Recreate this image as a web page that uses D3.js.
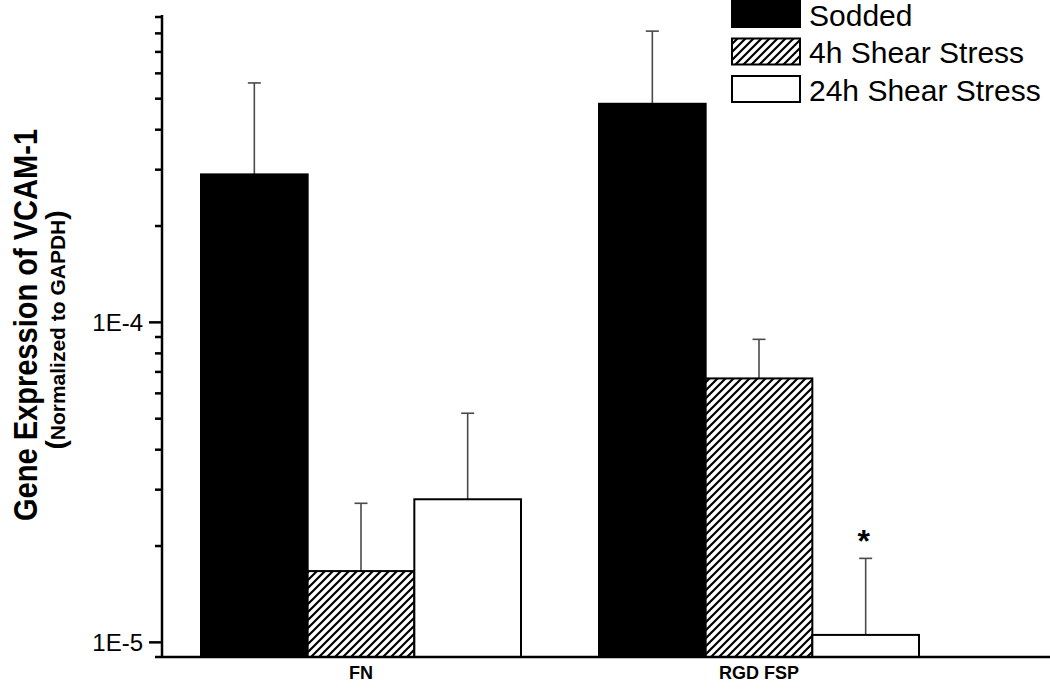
<!DOCTYPE html>
<html>
<head>
<meta charset="utf-8">
<script src="https://cdn.jsdelivr.net/npm/d3@7"></script>
<style>
  html, body { margin: 0; padding: 0; background: #fff; }
  svg { display: block; font-family: "Liberation Sans", Arial, sans-serif; }
</style>
</head>
<body>
<svg id="chart" width="1050" height="690"></svg>
<script>
// ---- data ----
const categories = ["FN", "RGD FSP"];
const seriesNames = ["Sodded", "4h Shear Stress", "24h Shear Stress"];
const soddedValues = [2.90e-4, 4.82e-4];
const shear4hValues = [1.67e-5, 6.68e-5];
const shear24hValues = [2.80e-5, 1.055e-5];
const soddedErr = [2.70e-4, 3.31e-4];
const shear4hErr = [1.05e-5, 2.17e-5];
const shear24hErr = [2.40e-5, 7.75e-6];
const majorTicks = [1e-5, 1e-4];
const majorTickLabels = ["1E-5", "1E-4"];
const minorTicks = [2e-5, 3e-5, 4e-5, 5e-5, 6e-5, 7e-5, 8e-5, 9e-5,
                    2e-4, 3e-4, 4e-4, 5e-4, 6e-4, 7e-4, 8e-4, 9e-4];
const significance = [null, null, null, null, null, "*"]; // per bar (cat-major order)

const seriesValues = [soddedValues, shear4hValues, shear24hValues];
const seriesErr = [soddedErr, shear4hErr, shear24hErr];

const svg = d3.select("#chart");

// pattern for hatched bars
const defs = svg.append("defs");
const pat = defs.append("pattern")
  .attr("id", "hatch").attr("patternUnits", "userSpaceOnUse")
  .attr("width", 8).attr("height", 8);
pat.append("rect").attr("width", 8).attr("height", 8).attr("fill", "#fff");
pat.append("path")
  .attr("d", "M-2,2 L2,-2 M0,8 L8,0 M6,10 L10,6")
  .attr("stroke", "#000").attr("stroke-width", 2.2);

const fills = ["#000", "url(#hatch)", "#fff"];

// scales
const y = d3.scaleLog().domain([9e-6, 9e-4]).range([657, 17]);
const x0 = d3.scaleBand().domain(categories).range([162, 958]);
const groupW = 320;
const x1 = d3.scaleBand().domain(seriesNames)
  .range([(x0.bandwidth() - groupW) / 2, (x0.bandwidth() + groupW) / 2]);

// bars data
const bars = [];
categories.forEach((c, ci) => {
  seriesNames.forEach((s, si) => {
    bars.push({cat: c, ser: s, si, v: seriesValues[si][ci], e: seriesErr[si][ci],
               sig: significance[ci * 3 + si]});
  });
});

const gBars = svg.append("g");
gBars.selectAll("g.err").data(bars).join("g").attr("class", "err").each(function(d) {
  const cx = x0(d.cat) + x1(d.ser) + x1.bandwidth() / 2;
  const g = d3.select(this);
  g.append("line").attr("x1", cx).attr("x2", cx)
    .attr("y1", y(d.v)).attr("y2", y(d.v + d.e))
    .attr("stroke", "#4a4a4a").attr("stroke-width", 1.6);
  g.append("line").attr("x1", cx - 6.5).attr("x2", cx + 6.5)
    .attr("y1", y(d.v + d.e)).attr("y2", y(d.v + d.e))
    .attr("stroke", "#4a4a4a").attr("stroke-width", 1.6);
  if (d.sig) {
    g.append("text").attr("x", cx - 2).attr("y", y(d.v + d.e) - 6)
      .attr("text-anchor", "middle").attr("font-size", 32).attr("font-weight", "bold")
      .text(d.sig);
  }
});

gBars.selectAll("rect.bar").data(bars).join("rect").attr("class", "bar")
  .attr("x", d => x0(d.cat) + x1(d.ser))
  .attr("width", x1.bandwidth())
  .attr("y", d => y(d.v))
  .attr("height", d => y.range()[0] - y(d.v))
  .attr("fill", d => fills[d.si])
  .attr("stroke", "#000").attr("stroke-width", 2);

// y axis
const axisX = 162;
const gy = svg.append("g");
gy.append("line").attr("x1", axisX).attr("x2", axisX).attr("y1", 15).attr("y2", 658)
  .attr("stroke", "#000").attr("stroke-width", 2.5);
gy.selectAll("line.minor").data(minorTicks).join("line").attr("class", "minor")
  .attr("x1", axisX - 7).attr("x2", axisX).attr("y1", d => y(d)).attr("y2", d => y(d))
  .attr("stroke", "#000").attr("stroke-width", 2.5);
gy.selectAll("line.major").data(majorTicks).join("line").attr("class", "major")
  .attr("x1", axisX - 13).attr("x2", axisX).attr("y1", d => y(d)).attr("y2", d => y(d))
  .attr("stroke", "#000").attr("stroke-width", 2.5);
gy.selectAll("text.tl").data(majorTicks).join("text").attr("class", "tl")
  .attr("x", axisX - 19).attr("y", d => y(d)).attr("dy", "0.36em")
  .attr("text-anchor", "end").attr("font-size", 24)
  .text((d, i) => majorTickLabels[i]);

// x axis
svg.append("line").attr("x1", 155).attr("x2", 1050).attr("y1", 657).attr("y2", 657)
  .attr("stroke", "#000").attr("stroke-width", 2.5);
svg.selectAll("text.cat").data(categories).join("text").attr("class", "cat")
  .attr("x", d => x0(d) + x0.bandwidth() / 2).attr("y", 679)
  .attr("text-anchor", "middle").attr("font-size", 18).attr("font-weight", "bold")
  .text(d => d);

// y titles
svg.append("text").attr("transform", "translate(37,325) rotate(-90) scale(0.88,1)")
  .attr("text-anchor", "middle").attr("font-size", 33).attr("font-weight", "bold")
  .text("Gene Expression of VCAM-1");
const sub = svg.append("text").attr("transform", "translate(65,330) rotate(-90)")
  .attr("text-anchor", "middle").attr("font-size", 21).attr("font-weight", "bold");
sub.append("tspan").attr("font-size", 28).text("(");
sub.append("tspan").text("Normalized to GAPDH");
sub.append("tspan").attr("font-size", 28).text(")");

// legend
const legend = svg.append("g");
seriesNames.forEach((s, i) => {
  const ly = 1 + i * 37.5;
  legend.append("rect").attr("x", 732).attr("y", ly).attr("width", 68).attr("height", 26)
    .attr("fill", fills[i]).attr("stroke", "#000").attr("stroke-width", 2);
  legend.append("text").attr("x", 809).attr("y", ly + 24.5).attr("font-size", 30).text(s);
});
</script>
</body>
</html>
